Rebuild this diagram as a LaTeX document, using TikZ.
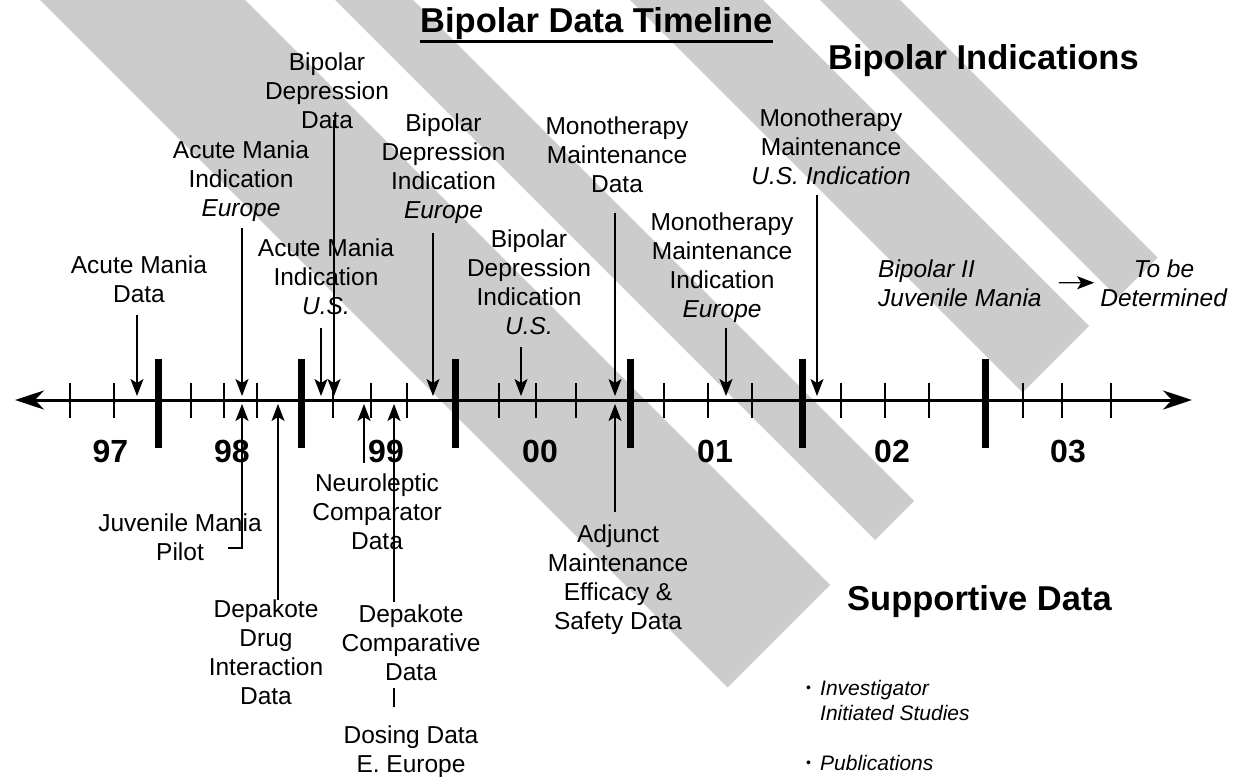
\documentclass[tikz,border=0pt]{standalone}
\usepackage{fontspec}
\setmainfont{Liberation Sans}
\usetikzlibrary{arrows.meta,calc}
\definecolor{stripe}{gray}{0.8}
\begin{document}
\begin{tikzpicture}[x=1pt,y=-1pt,
  lbl/.style={inner sep=0pt, anchor=base, align=center, font=\fontsize{24.5}{29}\selectfont},
  year/.style={inner sep=0pt, anchor=base, font=\fontsize{32}{38}\selectfont\bfseries},
  head/.style={inner sep=0pt, anchor=base west, font=\fontsize{34.5}{40}\selectfont\bfseries},
  small/.style={inner sep=0pt, anchor=base west, align=left, font=\fontsize{21}{25}\selectfont\itshape},
  evt/.style={line width=1.4pt, -{Stealth[length=17pt,width=13pt,inset=4pt]}},
  plain/.style={line width=1.4pt},
  axisline/.style={line width=3pt, {Stealth[length=29pt,width=19pt,inset=9pt]}-{Stealth[length=29pt,width=19pt,inset=9pt]}},
  tickmark/.style={line width=1.5pt},
  yearbar/.style={line width=7pt},
  band/.style={fill=stripe, draw=none}
]
\useasboundingbox (0,0) rectangle (1233,776);
\fill[white] (0,0) rectangle (1233,776);
% diagonal stripes
\begin{scope}
\clip (0,0) rectangle (1233,776);
\fill[band] (30,-10) -- (235,-10) -- (830,585) -- (727.5,687.5) -- cycle;
\fill[band] (325,-10) -- (403,-10) -- (914,501) -- (875,540) -- cycle;
\fill[band] (620,-10) -- (753,-10) -- (1089,326) -- (1022.5,392.5) -- cycle;
\fill[band] (810,-10) -- (890,-10) -- (1157.5,257.5) -- (1117.5,297.5) -- cycle;
\end{scope}
% headings
\node[head] (title) at (420,33) {Bipolar Data Timeline};
\draw[line width=3pt] ([yshift=-8.5pt]title.base west) -- ([yshift=-8.5pt]title.base east);
\node[head] (bind) at (828,70) {Bipolar Indications};
\node[head] (supp) at (847,610) {Supportive Data};
% axis
\coordinate (axL) at (15,400);
\coordinate (axR) at (1192,400);
\draw[axisline] (axL) -- (axR);
\foreach \x in {70,114,191,224,257,333,371,407,499,536,576,664,708,752,841,885,929,1023,1062,1111}
  \draw[tickmark] (\x,383) -- (\x,418);
\foreach \x in {158,301,455,630,802,985}
  \draw[yearbar] (\x,359) -- (\x,448);
% years
\node[year] (y97) at (110.5,462) {97};
\node[year] (y98) at (232,462) {98};
\node[year] (y99) at (386,462) {99};
\node[year] (y00) at (540,462) {00};
\node[year] (y01) at (715,462) {01};
\node[year] (y02) at (892,462) {02};
\node[year] (y03) at (1068,462) {03};
% upper labels (anchored at baseline of last line)
\node[lbl] (L1) at (139,302) {Acute Mania\\Data};
\node[lbl] (L2) at (327,128) {Bipolar\\Depression\\Data};
\node[lbl] (L3) at (241,216) {Acute Mania\\Indication\\\textit{Europe}};
\node[lbl] (L4) at (326,314) {Acute Mania\\Indication\\\textit{U.S.}};
\node[lbl] (L5) at (443.5,218) {Bipolar\\Depression\\Indication\\\textit{Europe}};
\node[lbl] (L6) at (529,334) {Bipolar\\Depression\\Indication\\\textit{U.S.}};
\node[lbl] (L7) at (617,192) {Monotherapy\\Maintenance\\Data};
\node[lbl] (L8) at (831,184) {Monotherapy\\Maintenance\\\textit{U.S. Indication}};
\node[lbl] (L9) at (722,317) {Monotherapy\\Maintenance\\Indication\\\textit{Europe}};
\node[lbl, anchor=base west, align=left] (L10) at (878,306) {\textit{Bipolar II}\\\textit{Juvenile Mania}};
\node[lbl] (L11) at (1164,306) {\textit{To be}\\\textit{Determined}};
\draw[evt] ([xshift=17pt]L10.east) -- ([xshift=-6pt]L11.west);
% lower labels
\node[lbl] (L12) at (180,560) {Juvenile Mania\\Pilot};
\node[lbl] (L13) at (266,704) {Depakote\\Drug\\Interaction\\Data};
\node[lbl] (L14) at (377,549) {Neuroleptic\\Comparator\\Data};
\node[lbl] (L15) at (411,680) {Depakote\\Comparative\\Data};
\node[lbl] (L16) at (411,772) {Dosing Data\\E. Europe};
\node[lbl] (L17) at (618,629) {Adjunct\\Maintenance\\Efficacy \&\\Safety Data};
% supportive bullets
\node[inner sep=0pt, anchor=base west, font=\fontsize{14}{16}\selectfont] (bu1) at (806,692) {•};
\node[inner sep=0pt, anchor=base west, font=\fontsize{14}{16}\selectfont] (bu2) at (806,767) {•};
\node[small] (S1) at (820,720) {Investigator\\Initiated Studies};
\node[small] (S2) at (820,770) {Publications};
% event arrows from above
\foreach \n/\x/\y in {a1/137/315, a2/242/228, a3/321/328, a4/334/120, a5/433/233, a6/521/347, a7/615/213, a8/726/328, a9/817/195} {
  \coordinate (s\n) at (\x,\y);
  \coordinate (e\n) at (\x,396);
  \draw[evt] (s\n) -- (e\n);
}
% event arrows from below
\foreach \n/\x/\y in {b2/278/600, b3/364/463, b4/394/602, b5/615/512} {
  \coordinate (s\n) at (\x,\y);
  \coordinate (e\n) at (\x,404);
  \draw[evt] (s\n) -- (e\n);
}
\coordinate (sb1) at (228,548);
\coordinate (kb1) at (242,548);
\coordinate (eb1) at (242,404);
\draw[evt] (sb1) -- (kb1) -- (eb1);
\coordinate (d1) at (394,688);
\coordinate (d2) at (394,707);
\draw[plain] (d1) -- (d2);
\end{tikzpicture}
\end{document}
